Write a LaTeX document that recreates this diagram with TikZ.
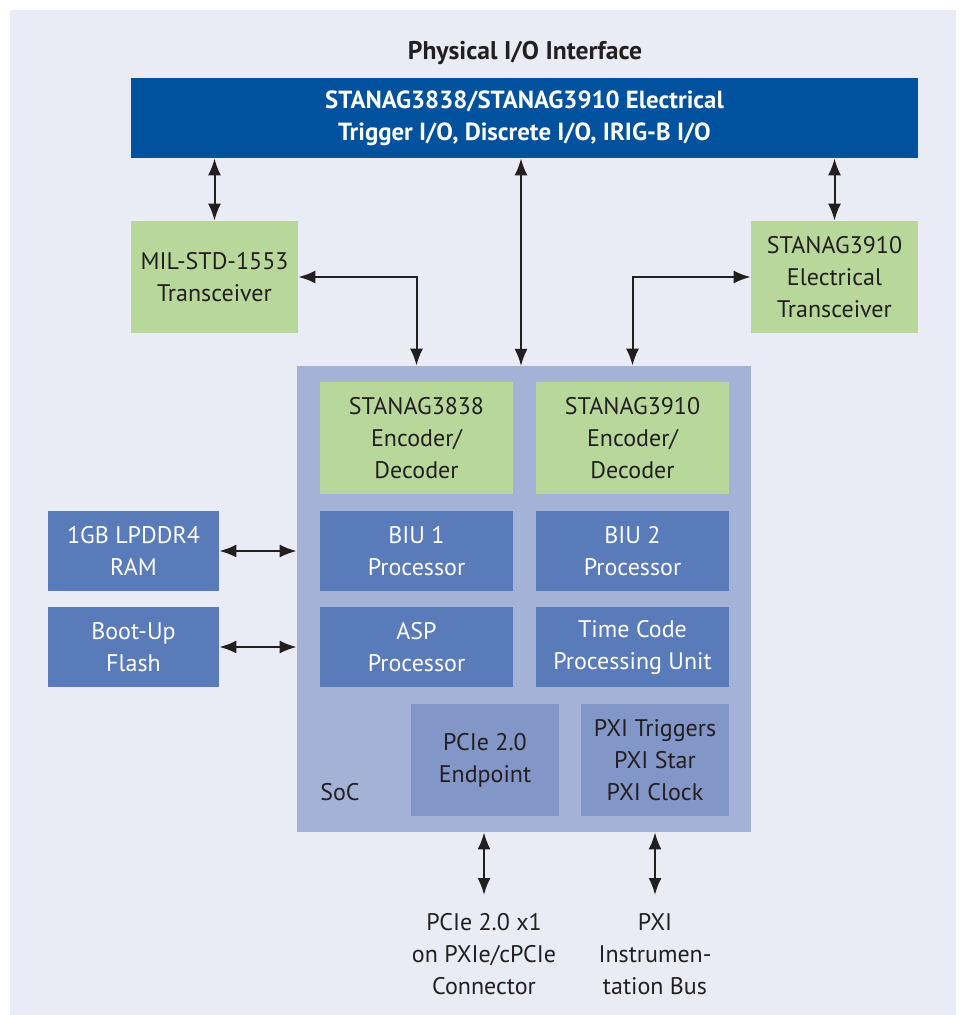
\documentclass[tikz,border=0pt]{standalone}
\usepackage{fontspec}
\setmainfont{PT Sans}
\usetikzlibrary{arrows.meta}

\definecolor{panelbg}{HTML}{E9ECF5}
\definecolor{iobl}{HTML}{00529E}
\definecolor{trgreen}{HTML}{B8D79B}
\definecolor{socbl}{HTML}{A4B2D8}
\definecolor{unitbl}{HTML}{5A7BBA}
\definecolor{portbl}{HTML}{8296C8}
\definecolor{txtdark}{HTML}{231F20}

\tikzset{
  blk/.style={rectangle, inner sep=0pt, align=center, text=txtdark,
    font=\fontsize{12}{16}\selectfont},
  trx/.style={blk, fill=trgreen, minimum width=83.5pt, minimum height=56pt},
  enc/.style={blk, fill=trgreen, minimum width=96.5pt, minimum height=56pt},
  unit/.style={blk, fill=unitbl, text=white, minimum width=96.5pt, minimum height=40pt},
  mem/.style={blk, fill=unitbl, text=white, minimum width=85.5pt, minimum height=40pt},
  port/.style={blk, fill=portbl, minimum width=74pt, minimum height=56pt},
  lbl/.style={blk, anchor=north, inner ysep=9pt},
  biarrow/.style={{Latex[length=8.5pt,width=6.5pt]}-{Latex[length=8.5pt,width=6.5pt]}, line width=1pt, draw=txtdark}
}

\begin{document}
\begin{tikzpicture}[x=0.5pt, y=-0.5pt]
  \useasboundingbox (0,0) rectangle (961,1015);
  \fill[panelbg] (10,10) rectangle (956,1015);

  \node[blk, font=\bfseries\fontsize{12.8}{16}\selectfont] (title) at (525,53) {Physical I/O Interface};
  \node[blk, fill=iobl, text=white, minimum width=393.5pt, minimum height=40pt,
        font=\bfseries\fontsize{12.4}{16}\selectfont] (io) at (524.5,118)
        {STANAG3838/STANAG3910 Electrical\\Trigger I/O, Discrete I/O, IRIG-B I/O};

  \node[trx] (mil) at (214.5,277) {MIL-STD-1553\\Transceiver};
  \node[trx] (tx3910) at (834.5,277) {STANAG3910\\Electrical\\Transceiver};

  % SoC and its blocks
  \node[blk, fill=socbl, minimum width=227pt, minimum height=233pt] (soc) at (524,599) {};
  \node[blk] (soclbl) at (340,792) {SoC};
  \node[enc] (enc1) at (416.5,438) {STANAG3838\\Encoder/\\Decoder};
  \node[enc] (enc2) at (632.5,438) {STANAG3910\\Encoder/\\Decoder};
  \node[unit] (biu1) at (416.5,551) {BIU 1\\Processor};
  \node[unit] (biu2) at (632.5,551) {BIU 2\\Processor};
  \node[unit] (asp) at (416.5,647) {ASP\\Processor};
  \node[unit] (tcpu) at (632.5,647) {Time Code\\Processing Unit};
  \node[port] (pcie) at (485,760) {PCIe 2.0\\Endpoint};
  \node[port] (pxi) at (655,760) {PXI Triggers\\PXI Star\\PXI Clock};

  \node[mem] (ram) at (133.5,551) {1GB LPDDR4\\RAM};
  \node[mem] (flash) at (133.5,647) {Boot-Up\\Flash};

  \node[lbl] (pcielbl) at (484,895) {PCIe 2.0 x1\\on PXIe/cPCIe\\Connector};
  \node[lbl] (pxilbl) at (655,895) {PXI\\Instrumen-\\tation Bus};
  \coordinate (iodrop) at (521,366);

  % connections
  \draw[biarrow] (io.south -| mil.north) -- (mil.north);
  \draw[biarrow] (io.south -| tx3910.north) -- (tx3910.north);
  \draw[biarrow] (io.south -| iodrop) -- (iodrop);
  \draw[biarrow] (mil.east) -| (enc1.north |- soc.north);
  \draw[biarrow] (tx3910.west) -| (enc2.north |- soc.north);
  \draw[biarrow] (ram.east) -- (ram.east -| soc.west);
  \draw[biarrow] (flash.east) -- (flash.east -| soc.west);
  \draw[biarrow] (pcielbl.north |- soc.south) -- (pcielbl.north);
  \draw[biarrow] (pxi.south |- soc.south) -- (pxilbl.north);
\end{tikzpicture}
\end{document}
